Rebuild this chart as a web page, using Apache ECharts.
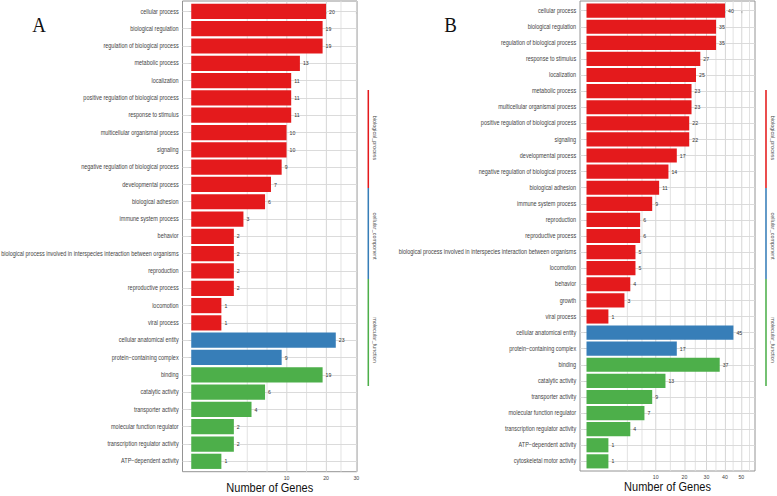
<!DOCTYPE html>
<html>
<head>
<meta charset="utf-8">
<script src="https://cdn.jsdelivr.net/npm/echarts@6/dist/echarts.min.js"></script>
<style>
    html, body { margin: 0; padding: 0; background: #fff; overflow: hidden; }
    /* 原图整体被横向压扁了，这里画宽一点再缩回 777px */
    #chart { width: 904px; height: 496px; transform: scaleX(0.86); transform-origin: 0 0; }
</style>
</head>
<body>
<div id="chart"></div>
<script>
// ---- data, panel A ----
const catsA = [
    'cellular process', 'biological regulation', 'regulation of biological process',
    'metabolic process', 'localization', 'positive regulation of biological process',
    'response to stimulus', 'multicellular organismal process', 'signaling',
    'negative regulation of biological process', 'developmental process', 'biological adhesion',
    'immune system process', 'behavior',
    'biological process involved in interspecies interaction between organisms',
    'reproduction', 'reproductive process', 'locomotion', 'viral process',
    'cellular anatomical entity', 'protein\u2212containing complex',
    'binding', 'catalytic activity', 'transporter activity', 'molecular function regulator',
    'transcription regulator activity', 'ATP\u2212dependent activity'
];
const valsA = [20, 19, 19, 13, 11, 11, 11, 10, 10, 9, 7, 6, 3, 2, 2, 2, 2, 1, 1, 23, 9, 19, 6, 4, 2, 2, 1];
const groupSizesA = [19, 2, 6];
const ticksA = [10, 20, 30];

// ---- data, panel B ----
const catsB = [
    'cellular process', 'biological regulation', 'regulation of biological process',
    'response to stimulus', 'localization', 'metabolic process', 'multicellular organismal process',
    'positive regulation of biological process', 'signaling', 'developmental process',
    'negative regulation of biological process', 'biological adhesion', 'immune system process',
    'reproduction', 'reproductive process',
    'biological process involved in interspecies interaction between organisms',
    'locomotion', 'behavior', 'growth', 'viral process',
    'cellular anatomical entity', 'protein\u2212containing complex',
    'binding', 'catalytic activity', 'transporter activity', 'molecular function regulator',
    'transcription regulator activity', 'ATP\u2212dependent activity', 'cytoskeletal motor activity'
];
const valsB = [40, 35, 35, 27, 25, 23, 23, 22, 22, 17, 14, 11, 9, 6, 6, 5, 5, 4, 3, 1, 45, 17, 37, 13, 9, 7, 4, 1, 1];
const groupSizesB = [20, 2, 7];
const ticksB = [10, 20, 30, 40, 50];

const ontologies = ['biological_process', 'cellular_component', 'molecular_function'];
const ontologyColors = ['#E41A1C', '#377EB8', '#4DAF4A'];

const SX = 0.86;             // 横向压缩比例
const X = v => v / SX;       // 把目标像素 x 换算到未压缩的坐标
const FONT = 'Liberation Sans';

// 最长的类别名在原图里大约 178px 宽
const mctx = document.createElement('canvas').getContext('2d');
mctx.font = '10px "' + FONT + '"';
const longW = mctx.measureText(catsA[14]).width;
const catSize = Math.min(7.5, 10 * X(178) / longW);

const chart = echarts.init(document.getElementById('chart'), null, { renderer: 'svg' });

const grids = [], xAxes = [], yAxes = [], series = [];

// ggplot 风格的网格线位置（sqrt 变换后）
function gridPositions(ticks, min, max) {
    const t = ticks.map(Math.sqrt);
    const ext = [2 * t[0] - t[1], ...t, 2 * t[t.length - 1] - t[t.length - 2]];
    const out = [];
    for (let i = 0; i < ext.length; i++) {
        out.push(ext[i]);
        if (i < ext.length - 1) out.push((ext[i] + ext[i + 1]) / 2);
    }
    return out.filter(v => v > min && v < max);
}

function addPanel(cats, vals, groupSizes, ticks, frame, xMin, xMax) {
    const n = cats.length;
    const band = frame.height / (n + 0.2);
    const gFrame = grids.length, gData = grids.length + 1;

    const colorOf = [];
    groupSizes.forEach((s, gi) => { for (let k = 0; k < s; k++) colorOf.push(ontologyColors[gi]); });

    grids.push({
        left: frame.left, top: frame.top, width: frame.width, height: frame.height,
        show: true, borderColor: '#8c8c8c', borderWidth: 1, backgroundColor: '#fff',
        outerBoundsMode: 'none'
    });
    grids.push({
        left: frame.left, top: frame.top + 0.1 * band, width: frame.width, height: n * band,
        outerBoundsMode: 'none'
    });

    const tickVals = ticks.map(Math.sqrt);
    xAxes.push({
        gridIndex: gFrame, type: 'value', min: xMin, max: xMax,
        axisLine: { show: false },
        axisTick: { show: true, customValues: tickVals, length: 2.5, lineStyle: { color: '#555' } },
        axisLabel: {
            customValues: tickVals, margin: 3, fontSize: catSize * 0.95, color: '#444',
            fontFamily: FONT, formatter: v => Math.round(v * v)
        },
        splitLine: { show: false },
        name: 'Number of Genes', nameLocation: 'middle', nameGap: 9, nameMoveOverlap: false,
        nameTextStyle: { fontFamily: FONT, fontSize: 12.8, lineHeight: 14, color: '#111' }
    });
    yAxes.push({
        gridIndex: gFrame, type: 'value', min: -0.6, max: n - 0.4, inverse: true, show: false
    });
    xAxes.push({ gridIndex: gData, type: 'value', min: xMin, max: xMax, show: false });
    yAxes.push({
        gridIndex: gData, type: 'category', data: cats, inverse: true,
        axisLine: { show: false },
        axisTick: { show: true, alignWithLabel: true, length: 3, lineStyle: { color: '#555' } },
        axisLabel: { fontSize: catSize, color: '#444', fontFamily: FONT, margin: 4.5, interval: 0 },
        splitLine: { show: false }
    });

    const majors = tickVals;
    const lines = gridPositions(ticks, xMin, xMax);
    series.push({
        type: 'line', xAxisIndex: gFrame, yAxisIndex: gFrame, data: [], silent: true,
        markLine: {
            silent: true, symbol: ['none', 'none'], label: { show: false }, animation: false, z: 1,
            data: [
                ...lines.map(v => ({
                    xAxis: v,
                    lineStyle: { color: majors.some(m => Math.abs(m - v) < 1e-6) ? '#d2d2d2' : '#e0e0e0', width: 1, type: 'solid' }
                })),
                ...cats.map((c, i) => ({ yAxis: i, lineStyle: { color: '#d8d8d8', width: 1, type: 'solid' } }))
            ]
        }
    });

    series.push({
        type: 'bar', xAxisIndex: gData, yAxisIndex: gData, z: 3,
        barWidth: '88%',
        data: vals.map((v, i) => ({ value: Math.sqrt(v), itemStyle: { color: colorOf[i] } })),
        label: {
            show: true, position: 'right', distance: 3.5,
            fontSize: catSize * 0.95, color: '#333', fontFamily: FONT,
            formatter: p => vals[p.dataIndex]
        }
    });
}

addPanel(catsA, valsA, groupSizesA, ticksA, { left: X(182.5), top: 1, width: X(174.5), height: 470.7 }, -0.29, 5.5);
addPanel(catsB, valsB, groupSizesB, ticksB, { left: X(580), top: 1, width: X(175), height: 470 }, -0.297, 7.694);

// 右侧的分类条
const stripSegs = [[90, 188], [188, 279], [279, 386]];
const stripText = [138, 236, 340];
const graphics = [];
[368.3, 766].forEach(x => {
    stripSegs.forEach((s, i) => {
        graphics.push({
            type: 'line', silent: true,
            shape: { x1: X(x), y1: s[0], x2: X(x), y2: s[1] },
            style: { stroke: ontologyColors[i], lineWidth: 1.8 }
        });
        graphics.push({
            type: 'text', silent: true, x: X(x + 6.5), y: stripText[i], rotation: -Math.PI / 2,
            style: {
                text: ontologies[i], fontSize: catSize * 0.85, fontFamily: FONT, fill: '#555',
                align: 'center', verticalAlign: 'middle'
            }
        });
    });
});
[['A', 39, 24], ['B', 450.5, 24]].forEach(t => {
    graphics.push({
        type: 'text', silent: true, x: X(t[1]), y: t[2],
        style: {
            text: t[0], fontSize: 22, fontFamily: 'Liberation Serif', fill: '#111',
            align: 'center', verticalAlign: 'middle'
        }
    });
});

chart.setOption({
    animation: false,
    backgroundColor: '#fff',
    grid: grids,
    xAxis: xAxes,
    yAxis: yAxes,
    series: series,
    graphic: graphics
});
</script>
</body>
</html>
